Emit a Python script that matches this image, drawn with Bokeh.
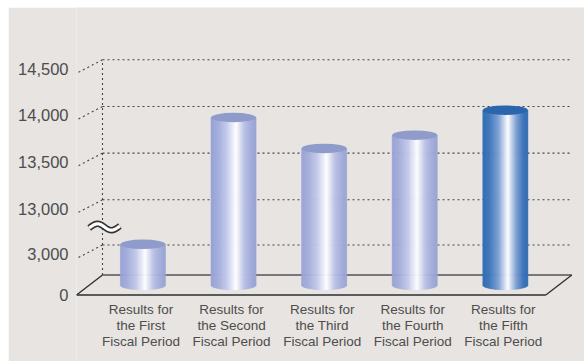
import numpy as np
from bokeh.plotting import figure
from bokeh.models import Range1d, FixedTicker, LinearAxis, Spacer
from bokeh.layouts import column, row
from bokeh.embed import file_html
from bokeh.resources import INLINE
from bokeh.core.properties import value

# ---------------- data ----------------
categories = [
    "Results for\nthe First\nFiscal Period",
    "Results for\nthe Second\nFiscal Period",
    "Results for\nthe Third\nFiscal Period",
    "Results for\nthe Fourth\nFiscal Period",
    "Results for\nthe Fifth\nFiscal Period",
]
values = [4070, 13989, 13657, 13799, 14067]
highlight = [False, False, False, False, True]
tick_values = [0, 3000, 13000, 13500, 14000, 14500]
tick_labels = ["0", "3,000", "13,000", "13,500", "14,000", "14,500"]
grid_values = [3000, 13000, 13500, 14000, 14500]

# ---------------- broken-axis scale (pixels above floor) ----------------
LOW_K = 30.0 / 3000.0          # px per unit below the break
UP_START = 13000
UP_BASE = 75.2                 # px at 13,000
UP_K = 46.67 / 500.0           # px per unit above the break


def f(v):
    return v * LOW_K if v < UP_START else UP_BASE + (v - UP_START) * UP_K


# ---------------- geometry / style ----------------
PX_X = 90.6                    # pixels per category step
DX = 26.0 / PX_X               # depth offset in x (front -> back)
DY = 20.0                      # depth offset in y (px)
PAD = 0.59                     # floor padding around categories (mid plane)
BW = 45.0 / PX_X               # cylinder width
EH = 9.5                       # ellipse height (px)
BG = "#e7e4e1"
TXT = "#4d4d4d"
DOT = "#444444"

mid_l, mid_r = -PAD, len(categories) - 1 + PAD
front_l, front_r = mid_l - DX / 2, mid_r - DX / 2
back_l, back_r = mid_l + DX / 2, mid_r + DX / 2

p = figure(width=576, height=354,
           x_range=Range1d(front_l, front_l + 508.0 / PX_X),
           y_range=Range1d(-66.5, 287.5),
           output_backend="svg", toolbar_location=None,
           x_axis_type=None, y_axis_type=None,
           min_border_left=68, min_border_right=0,
           min_border_top=0, min_border_bottom=0,
           background_fill_color=BG, border_fill_color=BG,
           outline_line_color=None)
p.xgrid.visible = False
p.ygrid.visible = False

# y axis with broken labels
tick_pos = [0] + [int(round(f(v) + DY / 2)) + 1 for v in tick_values[1:]]
axis = LinearAxis(ticker=FixedTicker(ticks=tick_pos),
                  major_label_overrides={t: l for t, l in zip(tick_pos, tick_labels)})
axis.axis_line_color = None
axis.major_tick_line_color = None
axis.minor_tick_line_color = None
axis.major_tick_out = 0
axis.major_tick_in = 0
axis.major_label_standoff = 8
axis.major_label_text_font = "Liberation Sans"
axis.major_label_text_font_size = "16.5px"
axis.major_label_text_color = TXT
p.add_layout(axis, "left")

# back-plane dotted gridlines
gy = [f(v) + DY for v in grid_values]
p.segment(x0=[back_l] * len(gy), y0=gy, x1=[back_r] * len(gy), y1=gy,
          line_color=DOT, line_width=1.1, line_dash="2 3")
# back-plane vertical dotted line
p.segment(x0=[back_l], y0=[DY], x1=[back_l], y1=[max(gy)],
          line_color=DOT, line_width=1.1, line_dash="2 3")
# slanted dotted connectors from labels to back plane
p.segment(x0=[front_l + 2.0 / PX_X] * len(gy), y0=[g - 12.5 for g in gy],
          x1=[back_l] * len(gy), y1=gy,
          line_color=DOT, line_width=1.1, line_dash="2 3")

# floor
p.segment(x0=[front_l, back_l, front_l, front_r],
          y0=[0, DY, 0, 0],
          x1=[front_r, back_r, back_l, back_r],
          y1=[0, DY, DY, DY],
          line_color=["#2e2e2e", "#555555", "#2e2e2e", "#2e2e2e"], line_width=1.3)

# axis break symbol
t = np.linspace(-0.05, 1.05, 50)
bx = back_l + 2.0 / PX_X + (t - 0.5) * 28.0 / PX_X
by = 68 + 3.2 * np.sin(2 * np.pi * t)
p.line(bx, by, line_color="#333333", line_width=6.5)
p.line(bx, by, line_color="#ffffff", line_width=3.2)

# cylinders
lilac = [(0.0, "#97a2d4"), (0.15, "#a3addb"), (0.35, "#c3c9ea"), (0.5, "#eef0fa"),
         (0.56, "#ffffff"), (0.64, "#dfe3f4"), (0.75, "#b8bfe4"), (0.9, "#a2acda"),
         (1.0, "#98a3d4")]
blue = [(0.0, "#2e6ab3"), (0.15, "#3d76bb"), (0.35, "#7b9fd3"), (0.5, "#d6e0f3"),
        (0.56, "#ffffff"), (0.64, "#c9d6ee"), (0.75, "#7e9fd2"), (0.9, "#3e74ba"),
        (1.0, "#2f6ab1")]


def hex2rgb(h):
    h = h.lstrip("#")
    return np.array([int(h[i:i + 2], 16) for i in (0, 2, 4)], dtype=float)


def interp(stops, x):
    for (a, ca), (b, cb) in zip(stops[:-1], stops[1:]):
        if a <= x <= b:
            w = (x - a) / (b - a) if b > a else 0
            c = hex2rgb(ca) * (1 - w) + hex2rgb(cb) * w
            return "#%02x%02x%02x" % tuple(int(round(v)) for v in c)
    return stops[-1][1]


N = 45
ql, qr, qb, qt, qc = [], [], [], [], []
ex, ey, ec = [], [], []
for i, (v, hl) in enumerate(zip(values, highlight)):
    stops = blue if hl else lilac
    top = f(v) + DY / 2
    x0 = i - BW / 2
    for k in range(N):
        tt = (k + 0.5) / N
        ql.append(x0 + k * BW / N)
        qr.append(x0 + (k + 1) * BW / N)
        qb.append(DY / 2 - EH / 2 * np.sqrt(max(0.0, 1 - (2 * tt - 1) ** 2)))
        qt.append(top)
        qc.append(interp(stops, tt))
    ex.append(i)
    ey.append(top)
    ec.append("#2b66ad" if hl else "#8f9bcb")

p.quad(left=ql, right=qr, bottom=qb, top=qt, fill_color=qc, line_color=qc, line_width=0.6)
p.ellipse(x=ex, y=ey, width=BW, height=EH, fill_color=ec, line_color=None)

# category labels
p.text(x=[i - 2.0 / PX_X for i in range(len(categories))], y=[-7.0] * len(categories),
       text=categories, text_align="center", text_baseline="top",
       text_font=value("Liberation Sans"), text_font_size="13.5px",
       text_color=TXT, text_line_height=1.07)

layout = column(Spacer(height=7, width=584), row(Spacer(width=8, height=354), p))
open("out.html", "w").write(file_html(layout, INLINE))
